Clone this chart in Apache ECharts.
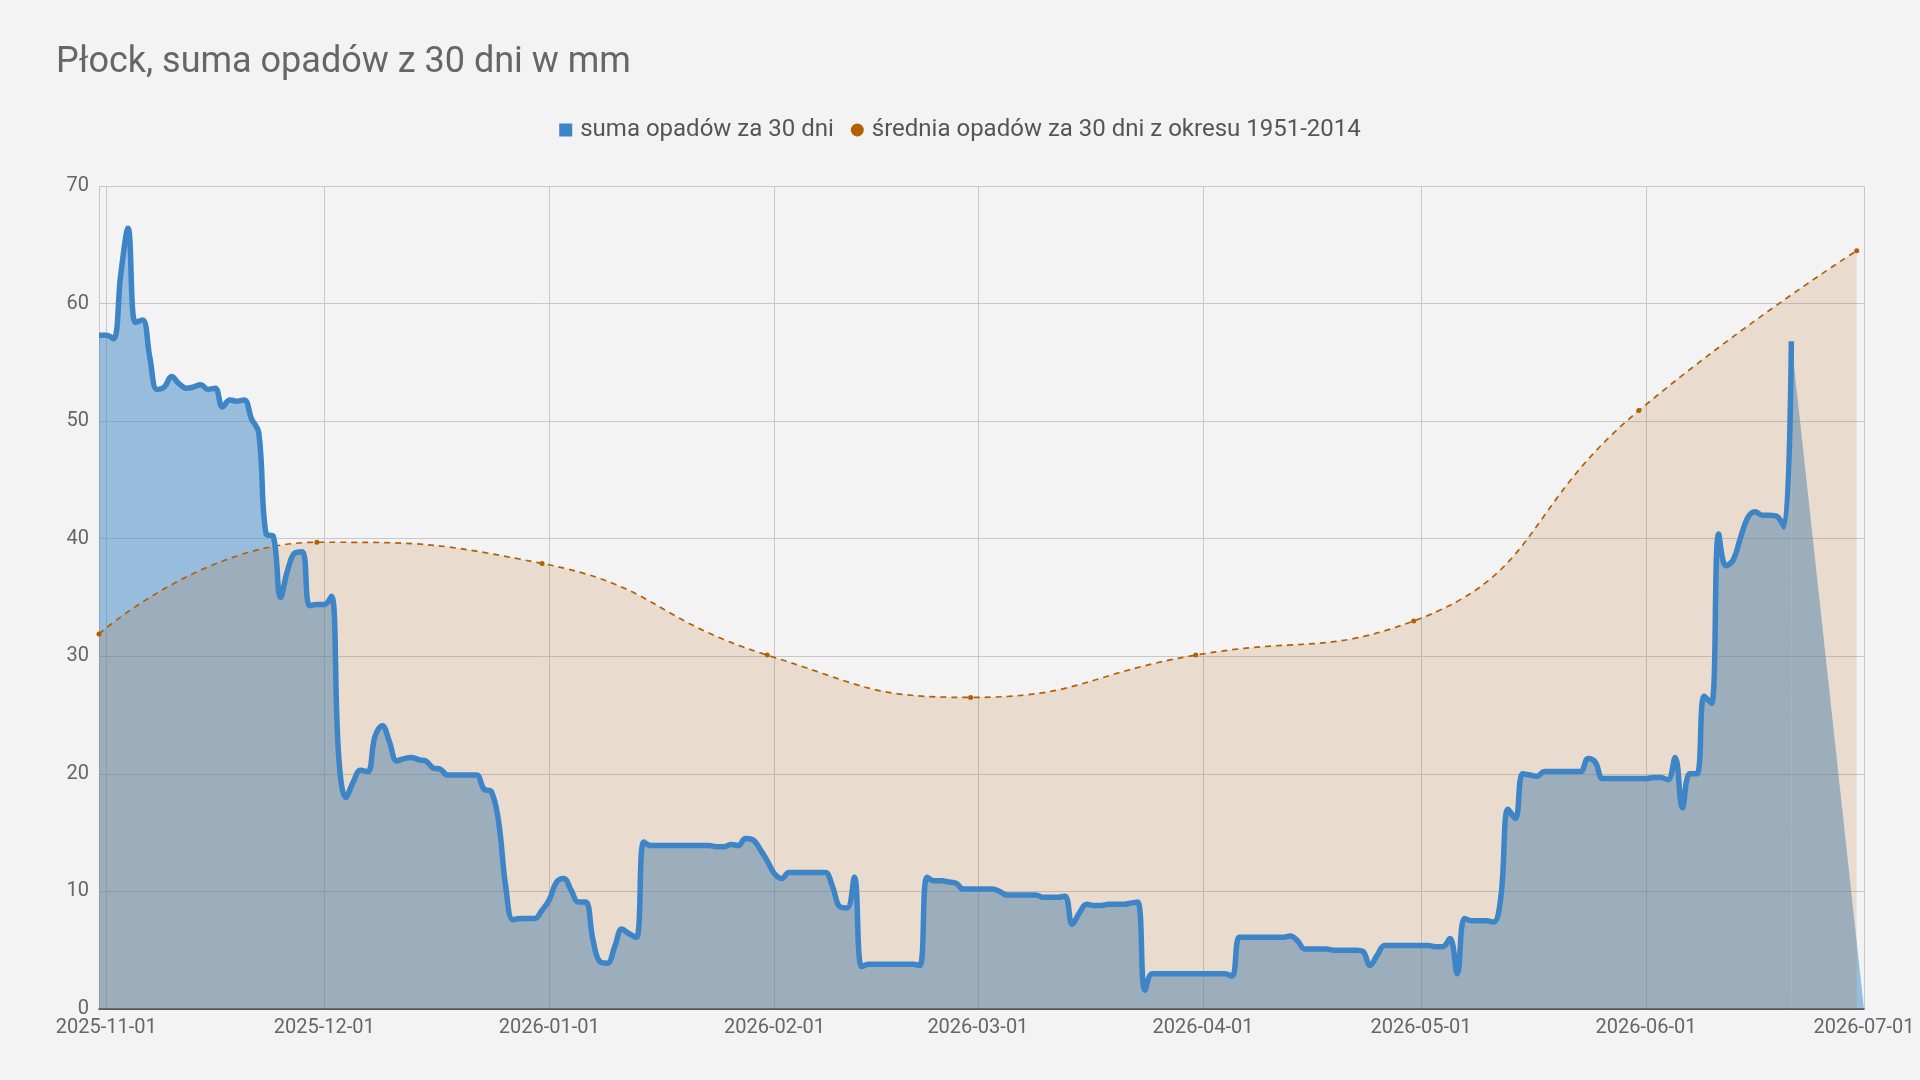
<!DOCTYPE html>
<html><head><meta charset="utf-8">
<script src="https://cdn.jsdelivr.net/npm/echarts@6/dist/echarts.min.js"></script>
<style>html,body{margin:0;padding:0;background:#f3f3f3;}#c{width:1920px;height:1080px;}</style>
</head><body><div id="c"></div>
<script>
const chartTitle = 'Płock, suma opadów z 30 dni w mm';
const sumName = 'suma opadów za 30 dni';
const avgName = 'średnia opadów za 30 dni z okresu 1951-2014';

// daily 30-day precipitation sums, starting 2025-10-31
const sumStartDate = '2025-10-31';
const sumValues = [
  57.3, 57.3, 57.0, 62.5, 66.4, 58.4, 58.6, 55.4, 52.7, 52.9, 53.8,
  53.2, 52.8, 52.9, 53.1, 52.7, 52.8, 51.2, 51.8, 51.7, 51.8,
  50.2, 49.0, 40.4, 40.2, 35.0, 37.4, 38.8, 38.9, 34.3, 34.4,
  34.4, 35.1, 21.5, 18.0, 19.3, 20.3, 20.2, 23.2, 24.1, 22.7,
  21.1, 21.3, 21.4, 21.2, 21.1, 20.5, 20.4, 19.9, 19.9, 19.9,
  19.9, 19.9, 18.7, 18.5, 16.0, 10.4, 7.6, 7.7, 7.7, 7.7,
  8.4, 9.3, 10.8, 11.1, 10.1, 9.1, 9.1, 5.9, 4.0, 3.9,
  5.3, 6.8, 6.4, 6.1, 14.2, 13.9, 13.9, 13.9, 13.9, 13.9,
  13.9, 13.9, 13.9, 13.9, 13.8, 13.8, 14.0, 13.9, 14.5, 14.4,
  13.6, 12.6, 11.5, 11.1, 11.6, 11.6, 11.6, 11.6, 11.6, 11.6,
  10.4, 8.7, 8.6, 11.2, 3.6, 3.8, 3.8, 3.8, 3.8, 3.8,
  3.8, 3.8, 3.7, 11.2, 10.9, 10.9, 10.8, 10.7, 10.2, 10.2,
  10.2, 10.2, 10.2, 10.0, 9.7, 9.7, 9.7, 9.7, 9.7, 9.5,
  9.5, 9.5, 9.6, 7.2, 8.2, 8.9, 8.8, 8.8, 8.9, 8.9,
  8.9, 9.0, 9.1, 1.6, 3.0, 3.0, 3.0, 3.0, 3.0, 3.0,
  3.0, 3.0, 3.0, 3.0, 3.0, 2.8, 6.1, 6.1, 6.1, 6.1,
  6.1, 6.1, 6.1, 6.2, 5.8, 5.1, 5.1, 5.1, 5.1, 5.0,
  5.0, 5.0, 5.0, 4.9, 3.7, 4.6, 5.4, 5.4, 5.4, 5.4,
  5.4, 5.4, 5.4, 5.3, 5.3, 6.0, 3.0, 7.7, 7.5, 7.5,
  7.5, 7.4, 9.5, 17.0, 16.2, 20.0, 19.9, 19.8, 20.2, 20.2,
  20.2, 20.2, 20.2, 20.2, 21.3, 21.0, 19.6, 19.6, 19.6, 19.6,
  19.6, 19.6, 19.6, 19.7, 19.7, 19.5, 21.4, 17.1, 20.0, 20.0,
  26.6, 26.0, 40.4, 37.7, 38.2, 40.1, 41.8, 42.3, 42.0, 42.0,
  41.9, 41.0, 56.8
];
// the filled area of the sum drops (straight) to this point after the last value
const sumFillEndDate = '2026-07-01';
const sumFillEndValue = 0;

// long-term average (1951-2014), month-end points
const avgDates = ['2025-10-31','2025-11-30','2025-12-31','2026-01-31','2026-02-28','2026-03-31','2026-04-30','2026-05-31','2026-06-30'];
const avgValues = [31.9, 39.7, 37.9, 30.1, 26.5, 30.1, 33.0, 50.9, 64.5];

// axis ticks
const xTickDates = ['2025-11-01','2025-12-01','2026-01-01','2026-02-01','2026-03-01','2026-04-01','2026-05-01','2026-06-01','2026-07-01'];
const yMin = 0, yMax = 70, yStep = 10;

function parseLocal(s) { const p = s.split('-').map(Number); return new Date(p[0], p[1] - 1, p[2]); }
function fmt(d) { return echarts.time.format(d, '{yyyy}-{MM}-{dd}', false); }
const start = parseLocal(sumStartDate);
const sumData = sumValues.map((v, i) => [fmt(new Date(start.getFullYear(), start.getMonth(), start.getDate() + i)), v]);
const tailData = [sumData[sumData.length - 1], [sumFillEndDate, sumFillEndValue]];
const avgData = avgDates.map((d, i) => [d, avgValues[i]]);
const tickSet = new Set(xTickDates);

const BLUE = '#3d85c6', ORANGE = '#b45f06';
const FONT = 'Roboto';
const DAY = 86400000;
const chart = echarts.init(document.getElementById('c'), null, { renderer: 'canvas' });
chart.setOption({
  backgroundColor: '#f3f3f3',
  animation: false,
  textStyle: { fontFamily: FONT },
  title: { text: chartTitle, left: 51, top: 40, textStyle: { fontFamily: FONT, fontSize: 36, fontWeight: 'normal', color: '#666666' } },
  legend: {
    top: 113, left: 'center', itemGap: 17, itemWidth: 13, itemHeight: 13,
    textStyle: { fontFamily: FONT, fontSize: 24, color: '#555555', padding: [0, 0, 0, 3] },
    data: [ { name: sumName, icon: 'rect' }, { name: avgName, icon: 'circle' } ]
  },
  grid: { left: 99, right: 56, top: 186, bottom: 71 },
  xAxis: {
    type: 'time',
    min: parseLocal(sumStartDate).getTime(),
    max: parseLocal(xTickDates[xTickDates.length - 1]).getTime(),
    minInterval: 28 * DAY, maxInterval: 31 * DAY,
    axisLine: { show: true, lineStyle: { color: '#333333', width: 1.5 } },
    axisTick: { show: false },
    axisLabel: {
      showMinLabel: false, showMaxLabel: true, hideOverlap: false,
      formatter: v => { const s = fmt(v); return tickSet.has(s) ? s : ''; },
      fontFamily: FONT, fontSize: 20, color: '#666666', margin: 9
    },
    splitLine: { show: true, lineStyle: { color: '#c8c8c8', width: 1 } }
  },
  yAxis: {
    type: 'value', min: yMin, max: yMax, interval: yStep,
    axisLine: { show: false }, axisTick: { show: false },
    axisLabel: { fontFamily: FONT, fontSize: 20, color: '#666666', margin: 10 },
    splitLine: { lineStyle: { color: '#c8c8c8', width: 1 } }
  },
  series: [
    {
      name: 'fill', type: 'line', data: sumData, smooth: 0.4, showSymbol: false, z: 1,
      lineStyle: { width: 0, opacity: 0 }, itemStyle: { color: BLUE },
      areaStyle: { color: BLUE, opacity: 0.5 }, silent: true
    },
    {
      name: 'tail', type: 'line', data: tailData, smooth: false, showSymbol: false, z: 1,
      lineStyle: { width: 0, opacity: 0 }, itemStyle: { color: BLUE },
      areaStyle: { color: BLUE, opacity: 0.5 }, silent: true
    },
    {
      name: avgName, type: 'line', data: avgData, smooth: 0.5, z: 2,
      symbol: 'circle', symbolSize: 5, showSymbol: true,
      itemStyle: { color: ORANGE },
      lineStyle: { color: ORANGE, width: 1.7, type: [6, 5] },
      areaStyle: { color: ORANGE, opacity: 0.15 }
    },
    {
      name: sumName, type: 'line', data: sumData, smooth: 0.4, showSymbol: false, z: 3,
      itemStyle: { color: BLUE },
      lineStyle: { color: BLUE, width: 5.5, cap: 'butt', join: 'round' }
    }
  ]
});
</script></body></html>
